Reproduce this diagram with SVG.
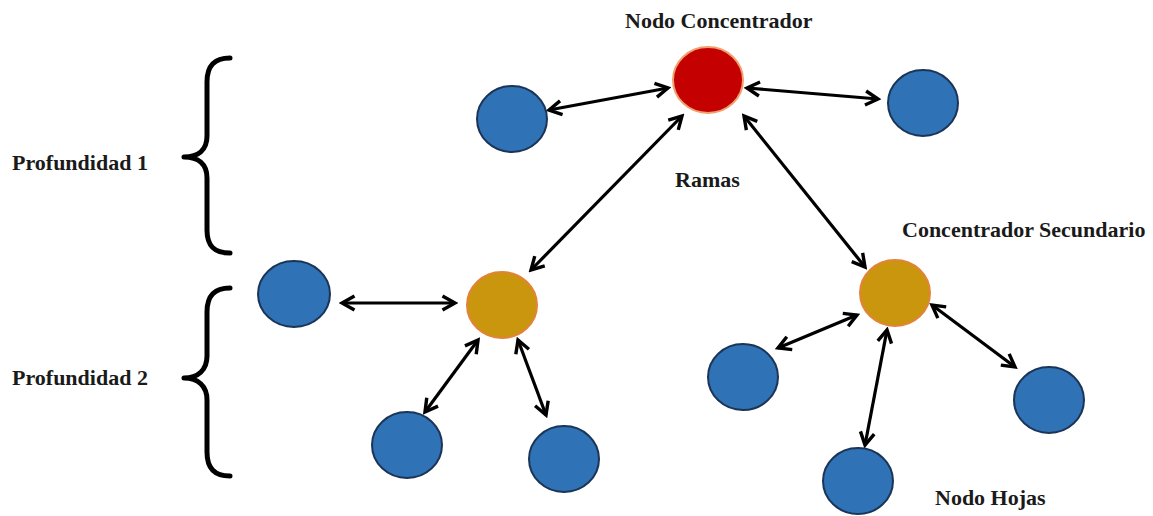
<svg xmlns="http://www.w3.org/2000/svg" width="1153" height="516" viewBox="0 0 1153 516">
<style>
.lbl{font-family:"Liberation Serif","Times New Roman",serif;font-weight:bold;font-size:22px;fill:#1a1a1a}
.leaf{fill:#2F72B5;stroke:#1B3558;stroke-width:2}
.hub{fill:#C50000;stroke:#F0A070;stroke-width:2}
.sub{fill:#C9960D;stroke:#E3833A;stroke-width:2}
.brace{fill:none;stroke:#000;stroke-width:5;stroke-linecap:round;stroke-linejoin:round}
.con{stroke:#000;stroke-width:3.2;fill:none;marker-start:url(#ah);marker-end:url(#ah)}
</style>
<defs>
<marker id="ah" viewBox="0 0 18 18" refX="15" refY="9" markerWidth="18" markerHeight="18" markerUnits="userSpaceOnUse" orient="auto-start-reverse">
<path d="M2.5,2 L15,9 L2.5,16" fill="none" stroke="#000" stroke-width="3.4" stroke-linejoin="miter"/>
</marker>
</defs>
<rect width="1153" height="516" fill="#fff"/>
<g id="braces">
<path class="brace" d="M230,58 C214,58 207,66 207,82 L207,136 C207,150 198,157 184,157 C198,157 207,164 207,178 L207,230 C207,246 214,253 230,253"/>
<path class="brace" d="M230,288 C214,288 207,296 207,312 L207,356 C207,370 198,378 184,378 C198,378 207,386 207,400 L207,452 C207,468 214,476 230,476"/>
</g>
<g id="connectors">
<line class="con" x1="549" y1="110" x2="668" y2="88"/>
<line class="con" x1="747" y1="88" x2="878" y2="99"/>
<line class="con" x1="682" y1="116" x2="531" y2="270"/>
<line class="con" x1="744" y1="116" x2="865" y2="267"/>
<line class="con" x1="342" y1="303" x2="455" y2="303"/>
<line class="con" x1="478" y1="340" x2="425" y2="412"/>
<line class="con" x1="518" y1="340" x2="546" y2="415"/>
<line class="con" x1="857" y1="315" x2="778" y2="348"/>
<line class="con" x1="887" y1="330" x2="865" y2="445"/>
<line class="con" x1="932" y1="305" x2="1015" y2="367"/>
</g>
<g id="hub"><ellipse class="hub" cx="708" cy="80" rx="35" ry="33"/></g>
<g id="leaf-top-left"><ellipse class="leaf" cx="512" cy="119" rx="35" ry="33"/></g>
<g id="leaf-top-right"><ellipse class="leaf" cx="923" cy="103" rx="35" ry="33"/></g>
<g id="sub-left"><ellipse class="sub" cx="502" cy="305" rx="35" ry="33"/></g>
<g id="sub-right"><ellipse class="sub" cx="895" cy="293" rx="35" ry="33"/></g>
<g id="leaf-far-left"><ellipse class="leaf" cx="294" cy="294" rx="36" ry="33"/></g>
<g id="leaf-bl1"><ellipse class="leaf" cx="407" cy="445" rx="35" ry="33"/></g>
<g id="leaf-bl2"><ellipse class="leaf" cx="564" cy="459" rx="35" ry="33"/></g>
<g id="leaf-r1"><ellipse class="leaf" cx="743" cy="377" rx="35" ry="33"/></g>
<g id="leaf-r2"><ellipse class="leaf" cx="858" cy="481" rx="35" ry="33"/></g>
<g id="leaf-r3"><ellipse class="leaf" cx="1049" cy="400" rx="35" ry="33"/></g>
<g id="labels">
<text class="lbl" x="625" y="28">Nodo Concentrador</text>
<text class="lbl" x="12" y="170">Profundidad 1</text>
<text class="lbl" x="12" y="385">Profundidad 2</text>
<text class="lbl" x="675" y="187">Ramas</text>
<text class="lbl" x="902" y="237">Concentrador Secundario</text>
<text class="lbl" x="935" y="505">Nodo Hojas</text>
</g>
</svg>
